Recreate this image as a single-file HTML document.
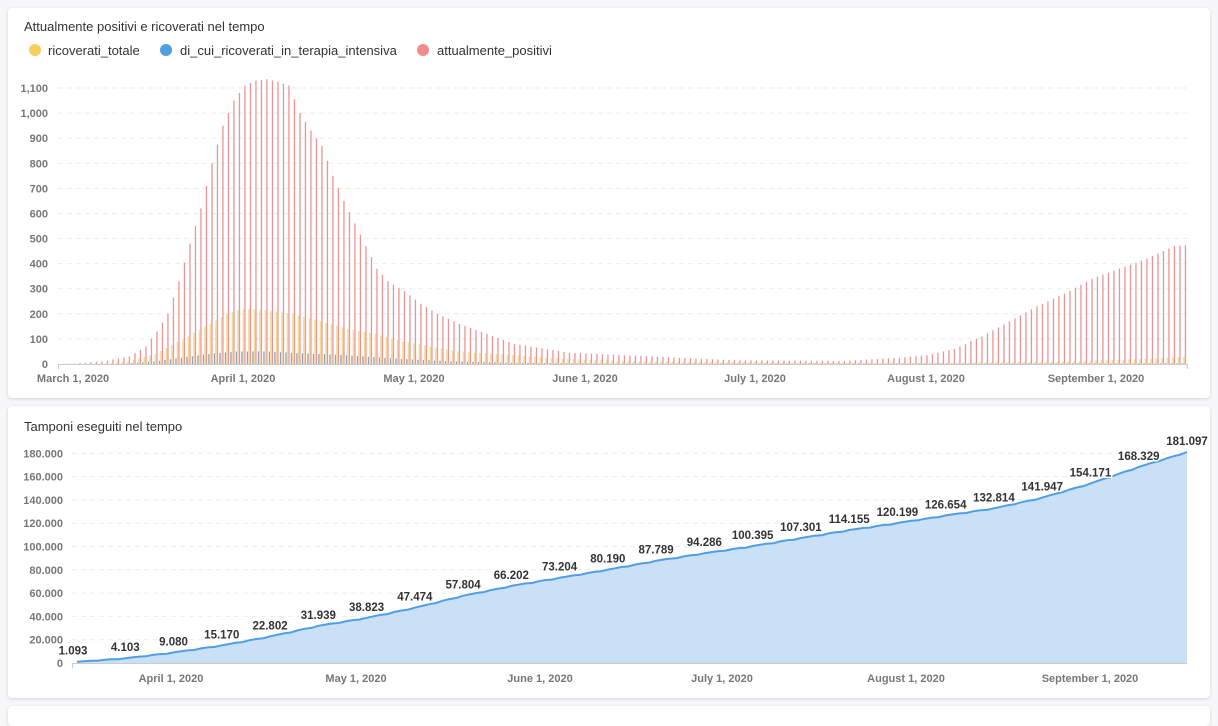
<!DOCTYPE html>
<html><head><meta charset="utf-8">
<style>
body{margin:0;background:#f6f7f8;font-family:"Liberation Sans",sans-serif;width:1218px;height:711px;overflow:hidden;position:relative}
.card{position:absolute;left:8px;width:1202px;background:#fff;border-radius:4px;box-shadow:0 1px 3px rgba(0,0,0,0.15)}
svg{position:absolute;left:0;top:0}
</style></head><body>
<div class="card" style="top:8px;height:390px"></div>
<div class="card" style="top:406px;height:292px"></div>
<div class="card" style="top:706px;height:20px"></div>
<svg id="s" width="1218" height="711" xmlns="http://www.w3.org/2000/svg" font-family="Liberation Sans, sans-serif">
<text x="24" y="31" font-size="13" fill="#333">Attualmente positivi e ricoverati nel tempo</text>
<circle cx="35" cy="50" r="6" fill="#f5d060"/><text x="48" y="55" font-size="13" fill="#333">ricoverati_totale</text>
<circle cx="166" cy="50" r="6" fill="#509ee3"/><text x="180" y="55" font-size="13" fill="#333">di_cui_ricoverati_in_terapia_intensiva</text>
<circle cx="423" cy="50" r="6" fill="#ef8c8c"/><text x="437" y="55" font-size="13" fill="#333">attualmente_positivi</text>
<text x="24" y="431" font-size="13" fill="#333">Tamponi eseguiti nel tempo</text>
<g id="top"></g><g id="bot"></g>
</svg>
<script>
var NS="http://www.w3.org/2000/svg";
function el(p,t,a,txt){var e=document.createElementNS(NS,t);for(var k in a)e.setAttribute(k,a[k]);if(txt!=null)e.textContent=txt;p.appendChild(e);return e;}
function interp(pts,d){if(d<=pts[0][0])return pts[0][1];for(var i=1;i<pts.length;i++){if(d<=pts[i][0]){var a=pts[i-1],b=pts[i];return a[1]+(b[1]-a[1])*(d-a[0])/(b[0]-a[0]);}}return pts[pts.length-1][1];}
var T=document.getElementById("top");
for(var v=0;v<=1100;v+=100){var y=364-v*0.2509;
 if(v>0)el(T,"line",{x1:58,x2:1187,y1:y,y2:y,stroke:"#ebebeb","stroke-dasharray":"5,4"});
 el(T,"text",{x:48,y:y+4,"font-size":"11","font-weight":"bold",fill:"#777","text-anchor":"end"},v>=1000?(v/1000|0)+","+String(v%1000).padStart(3,"0"):v);}
el(T,"line",{x1:58,x2:1187,y1:364.5,y2:364.5,stroke:"#ccc"});
el(T,"line",{x1:58.5,x2:58.5,y1:364,y2:369,stroke:"#ccc"});
el(T,"line",{x1:1187.5,x2:1187.5,y1:364,y2:369,stroke:"#ccc"});
var lab=[["March 1, 2020",73],["April 1, 2020",243],["May 1, 2020",414],["June 1, 2020",585],["July 1, 2020",755],["August 1, 2020",926],["September 1, 2020",1096]];
lab.forEach(function(l){el(T,"text",{x:l[1],y:382,"font-size":"11","font-weight":"bold",fill:"#777","text-anchor":"middle"},l[0]);});
var P=[[-3,0],[0,2],[5,10],[10,30],[13,70],[15,130],[17,200],[19,330],[21,480],[23,620],[25,800],[27,950],[29,1050],[31,1110],[33,1130],[35,1135],[37,1125],[39,1110],[41,1000],[43,930],[45,870],[47,750],[49,650],[51,560],[53,470],[55,380],[57,330],[60,290],[63,240],[66,200],[70,160],[75,120],[80,80],[90,45],[100,35],[110,25],[120,15],[140,12],[150,25],[155,35],[160,60],[165,110],[170,170],[175,230],[180,280],[185,340],[190,380],[195,420],[200,470],[203,475]];
var R=[[5,0],[10,10],[15,40],[20,100],[25,160],[28,200],[31,220],[35,215],[40,200],[45,170],[50,140],[55,120],[60,90],[65,70],[70,50],[80,35],[90,20],[100,12],[130,5],[160,5],[180,10],[195,20],[203,30]];
var I=[[8,0],[10,2],[15,10],[20,25],[25,40],[30,50],[35,50],[40,45],[50,35],[60,20],[70,10],[80,5],[100,2],[203,3]];
for(var d=-2;d<=202;d++){var x=73+d*5.5;
 var p=interp(P,d),r=interp(R,d),c=interp(I,d);
 if(c>0.5)el(T,"rect",{x:x-2.2,y:364-c*0.2509,width:1.3,height:c*0.2509,fill:"#8aa3c2"});
 if(r>0.5)el(T,"rect",{x:x-0.8,y:364-r*0.2509,width:1.4,height:r*0.2509,fill:"#f7da8e"});
 if(p>0.5)el(T,"rect",{x:x+0.8,y:364-p*0.2509,width:1.3,height:p*0.2509,fill:"#e99595"});
}
var B=document.getElementById("bot");
for(var v=0;v<=180000;v+=20000){var y=663-v*23.3/20000;
 if(v>0)el(B,"line",{x1:72,x2:1187,y1:y,y2:y,stroke:"#ebebeb","stroke-dasharray":"5,4"});
 el(B,"text",{x:63,y:y+4,"font-size":"11","font-weight":"bold",fill:"#777","text-anchor":"end"},v==0?"0":(v/1000)+".000");}
el(B,"line",{x1:72,x2:1187,y1:663.5,y2:663.5,stroke:"#ccc"});
el(B,"line",{x1:72.5,x2:72.5,y1:663,y2:668,stroke:"#ccc"});
[["April 1, 2020",171],["May 1, 2020",356],["June 1, 2020",540],["July 1, 2020",722],["August 1, 2020",906],["September 1, 2020",1090]].forEach(function(l){el(B,"text",{x:l[1],y:682,"font-size":"11","font-weight":"bold",fill:"#777","text-anchor":"middle"},l[0]);});
var vals=[1093,4103,9080,15170,22802,31939,38823,47474,57804,66202,73204,80190,87789,94286,100395,107301,114155,120199,126654,132814,141947,154171,168329,181097];
var pts=[];for(var i=0;i<vals.length;i++){pts.push([77+i*48.26,663-vals[i]*23.3/20000]);}
var d="M"+pts[0][0]+","+pts[0][1];
for(var i=1;i<pts.length;i++){var a=pts[i-1],b=pts[i];for(var k=1;k<=7;k++){var t=k/7;var w=(k%3==0)?0.6:0;d+=" L"+(a[0]+(b[0]-a[0])*t).toFixed(1)+","+(a[1]+(b[1]-a[1])*t+w).toFixed(1);}}
el(B,"path",{d:d+" L1187,663 L77,663 Z",fill:"#c9e0f6"});
el(B,"path",{d:d,fill:"none",stroke:"#509ee3","stroke-width":"2"});
for(var i=0;i<vals.length;i++){var s=String(vals[i]);s=s.length>3?s.slice(0,-3)+"."+s.slice(-3):s;
 el(B,"text",{x:pts[i][0]-(i==0?4:0),y:pts[i][1]-7,"font-size":"11.5","font-weight":"bold",fill:"#333","text-anchor":"middle",stroke:"#fff","stroke-width":"3","paint-order":"stroke"},s);}
</script>
</body></html>
